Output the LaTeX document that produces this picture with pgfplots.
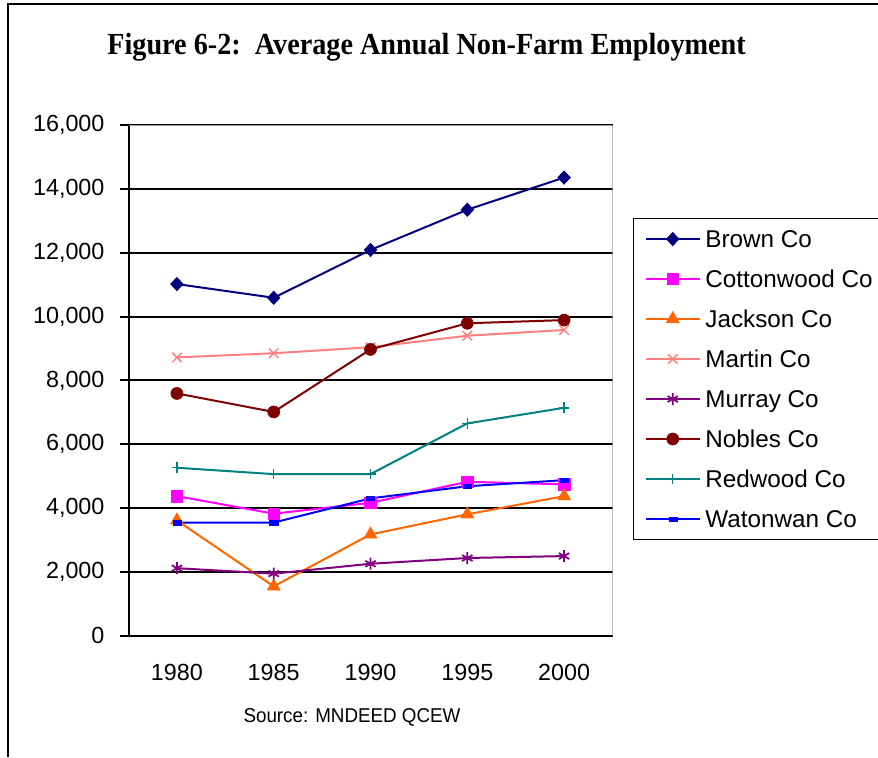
\documentclass[border=0pt]{standalone}
\usepackage{pgfplots}
\pgfplotsset{compat=1.18}
\usepackage{fontspec}
\setmainfont{Liberation Sans}
\newfontfamily\timesfont{Liberation Serif}
\definecolor{cBrown}{RGB}{0,0,128}
\definecolor{cCotton}{RGB}{255,0,255}
\definecolor{cJackson}{RGB}{255,102,0}
\definecolor{cMartin}{RGB}{255,128,128}
\definecolor{cMurray}{RGB}{128,0,128}
\definecolor{cNobles}{RGB}{128,0,0}
\definecolor{cRedwood}{RGB}{0,128,128}
\definecolor{cWaton}{RGB}{0,0,255}
\begin{document}
\begin{tikzpicture}
\begin{axis}[
  at={(96.375pt,91.125pt)}, anchor=south west,
  scale only axis, width=363pt, height=382.7pt,
  xmin=-0.5, xmax=4.5, ymin=0, ymax=16000,
  axis x line*=bottom, axis y line*=left,
  axis line style={black, line width=1.5pt, -},
  xtick={0,1,2,3,4},
  xticklabels={1980,1985,1990,1995,2000},
  minor xtick={-0.5,0.5,1.5,2.5,3.5,4.5},
  ytick={0,2000,...,16000},
  tick align=outside,
  major tick length=6pt, minor tick length=6pt,
  xtick style={draw=none},
  minor tick style={black, line width=1.5pt},
  ytick style={black, line width=1.5pt},
  ymajorgrids, grid style={black, line width=1.5pt},
  /pgf/number format/assume math mode=true,
  /pgf/number format/1000 sep={,},
  scaled y ticks=false,
  tick label style={font=\fontsize{17.5pt}{21pt}\selectfont},
  xticklabel style={anchor=base, yshift=-28pt},
  yticklabel style={anchor=east, xshift=-8.5pt},
  legend style={at={(1.0424,0.8183)}, anchor=north west, draw=black, line width=1.1pt,
    fill=white, font=\fontsize{18.2pt}{22pt}\selectfont,
    inner xsep=8.25pt, inner ysep=8.75pt, row sep=17pt,
    nodes={inner sep=0pt, text height=13pt, text depth=0pt},
    /tikz/every odd column/.append style={column sep=3.5pt}},
  legend cell align=left,
  legend image code/.code={\draw[mark repeat=2,mark phase=2,#1] plot coordinates {(0pt,0pt) (20.25pt,0pt) (40.5pt,0pt)};},
  every axis plot/.append style={line width=1.5pt},
]
\addplot[cBrown, mark=diamond*, mark size=5pt, mark options={solid, xscale=1.25, line width=0.5pt}]
  coordinates {(0,11020) (1,10590) (2,12090) (3,13350) (4,14360)};
\addlegendentry{Brown Co}
\addplot[cCotton, mark=square*, mark size=4.3pt, mark options={solid, line width=0.5pt}]
  coordinates {(0,4370) (1,3820) (2,4160) (3,4820) (4,4740)};
\addlegendentry{Cottonwood Co}
\addplot[cJackson, mark=triangle*, mark size=5.5pt, mark options={solid, line width=0.5pt}]
  coordinates {(0,3610) (1,1540) (2,3170) (3,3800) (4,4370)};
\addlegendentry{Jackson Co}
\addplot[cMartin, mark=x, mark size=5pt, mark options={solid, line width=1.1pt}]
  coordinates {(0,8720) (1,8850) (2,9040) (3,9400) (4,9580)};
\addlegendentry{Martin Co}
\addplot[cMurray, mark=asterisk, mark size=4.5pt, mark options={solid, line width=1.3pt}]
  coordinates {(0,2110) (1,1940) (2,2250) (3,2430) (4,2490)};
\addlegendentry{Murray Co}
\addplot[cNobles, mark=*, mark size=4.5pt, mark options={solid, line width=0.5pt}]
  coordinates {(0,7590) (1,7010) (2,8970) (3,9790) (4,9890)};
\addlegendentry{Nobles Co}
\addplot[cRedwood, mark=+, mark size=4pt, mark options={solid, line width=1.1pt}]
  coordinates {(0,5260) (1,5060) (2,5060) (3,6650) (4,7140)};
\addlegendentry{Redwood Co}
\addplot[cWaton, mark=square*, mark size=1.6pt, mark options={solid, xscale=1.9, line width=0.3pt}]
  coordinates {(0,3540) (1,3540) (2,4300) (3,4680) (4,4870)};
\addlegendentry{Watonwan Co}
\draw[gray!80, line width=1.5pt] (rel axis cs:0,1) -- (rel axis cs:1,1) -- (rel axis cs:1,0);
\end{axis}
\node[anchor=base, inner sep=0pt] at (319.9pt,527.2pt)
  {\scalebox{0.92}[1]{\timesfont\bfseries\fontsize{23pt}{27pt}\selectfont Figure 6-2:\ \ Average Annual Non-Farm Employment}};
\node[anchor=base, inner sep=0pt] at (264pt,25.7pt)
  {\scalebox{0.94}[1]{\fontsize{15pt}{18pt}\selectfont Source: MNDEED QCEW}};
\draw[black, line width=1.5pt] (6pt,0pt) -- (6pt,564.75pt) -- (670pt,564.75pt);
\pgfresetboundingbox
\useasboundingbox (0pt,0pt) rectangle (658.5pt,567.75pt);
\end{tikzpicture}
\end{document}
